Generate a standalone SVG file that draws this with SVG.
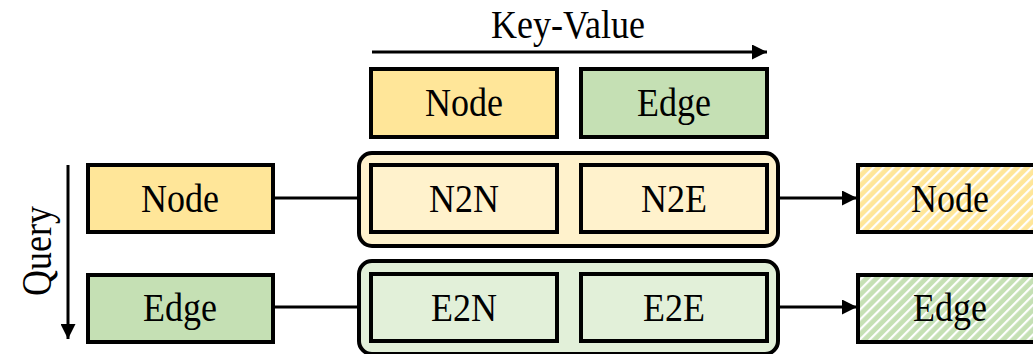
<svg xmlns="http://www.w3.org/2000/svg" width="1033" height="354" viewBox="0 0 1033 354">
<defs>
<marker id="ah" viewBox="0 0 10 10" refX="10" refY="5" markerWidth="5" markerHeight="5" orient="auto" markerUnits="strokeWidth">
<path d="M0,0 L10,5 L0,10 z" fill="#000"/>
</marker>
<pattern id="hy" width="7" height="7" patternUnits="userSpaceOnUse" patternTransform="rotate(45)">
<rect width="7" height="7" fill="#FFE699"/>
<rect width="2.2" height="7" fill="#FFFFFF"/>
</pattern>
<pattern id="hg" width="7" height="7" patternUnits="userSpaceOnUse" patternTransform="rotate(45)">
<rect width="7" height="7" fill="#C5E0B4"/>
<rect width="2.2" height="7" fill="#FFFFFF"/>
</pattern>
<style>
.b{stroke:#000;stroke-width:4}
.y{fill:#FFE699}
.g{fill:#C5E0B4}
.ly{fill:#FFF2CC}
.lg{fill:#E2F0D9}
.t{font-family:"Liberation Serif","Times New Roman",serif;font-size:36px;fill:#000;text-anchor:middle}
.c{stroke:#000;stroke-width:3;fill:none}
</style>
</defs>
<g id="kv-label">
<text class="t" transform="translate(568,38) scale(1,1.1)">Key-Value</text>
</g>
<g id="query-label">
<text class="t" transform="translate(51,251) rotate(-90) scale(1,1.15)">Query</text>
</g>
<g id="kv-node"><rect class="b y" x="371" y="69" width="186" height="68"/><text class="t" transform="translate(464,116) scale(1,1.1)">Node</text></g>
<g id="kv-edge"><rect class="b g" x="581" y="69" width="186" height="68"/><text class="t" transform="translate(674,116) scale(1,1.1)">Edge</text></g>
<g id="q-node"><rect class="b y" x="88" y="165" width="185" height="67"/><text class="t" transform="translate(180,212) scale(1,1.1)">Node</text></g>
<g id="q-edge"><rect class="b g" x="88" y="275" width="185" height="67"/><text class="t" transform="translate(180,321) scale(1,1.1)">Edge</text></g>
<g id="group-n"><rect class="b ly" x="359" y="153" width="419" height="93" rx="13"/></g>
<g id="n2n"><rect class="b ly" x="371" y="165" width="186" height="67"/><text class="t" transform="translate(464,212) scale(1,1.1)">N2N</text></g>
<g id="n2e"><rect class="b ly" x="581" y="165" width="186" height="67"/><text class="t" transform="translate(674,212) scale(1,1.1)">N2E</text></g>
<g id="group-e"><rect class="b lg" x="359" y="261" width="419" height="93" rx="13"/></g>
<g id="e2n"><rect class="b lg" x="371" y="274" width="186" height="67"/><text class="t" transform="translate(464,321) scale(1,1.1)">E2N</text></g>
<g id="e2e"><rect class="b lg" x="581" y="274" width="186" height="67"/><text class="t" transform="translate(674,321) scale(1,1.1)">E2E</text></g>
<g id="out-node"><rect class="b" fill="url(#hy)" x="858" y="165" width="186" height="67"/><text class="t" transform="translate(950,212) scale(1,1.1)">Node</text></g>
<g id="out-edge"><rect class="b" fill="url(#hg)" x="858" y="275" width="186" height="67"/><text class="t" transform="translate(950,321) scale(1,1.1)">Edge</text></g>
<g id="connectors">
<line class="c" x1="372" y1="52" x2="767" y2="52" marker-end="url(#ah)"/>
<line class="c" x1="68" y1="165" x2="68" y2="339" marker-end="url(#ah)"/>
<line class="c" x1="273" y1="198" x2="359" y2="198"/>
<line class="c" x1="273" y1="307" x2="359" y2="307"/>
<line class="c" x1="778" y1="198" x2="857" y2="198" marker-end="url(#ah)"/>
<line class="c" x1="778" y1="307" x2="857" y2="307" marker-end="url(#ah)"/>
</g>
</svg>
